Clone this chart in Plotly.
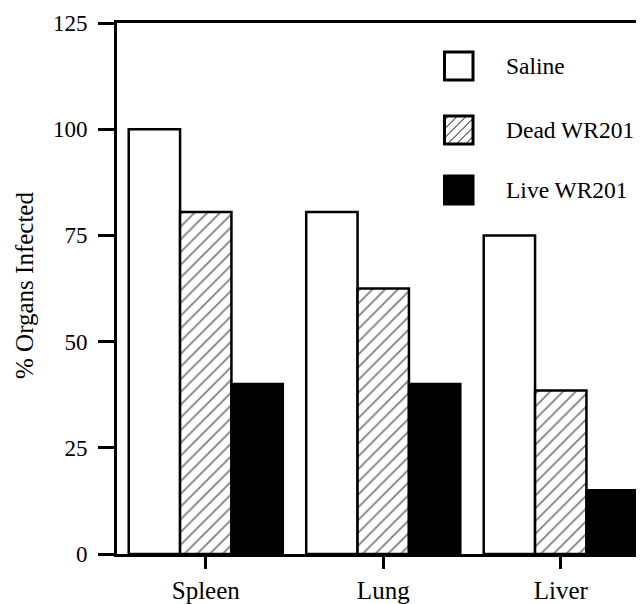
import plotly.graph_objects as go

# ---- data ----
categories = ["Spleen", "Lung", "Liver"]
series_names = ["Saline", "Dead WR201", "Live WR201"]
saline = [100, 80.5, 75]
dead_wr201 = [80.5, 62.5, 38.5]
live_wr201 = [40, 40, 15]
y_ticks = [0, 25, 50, 75, 100, 125]

# ---- layout geometry (page pixels; the page body has an 8px margin) ----
OFF = 8
W, H = 644 - OFF, 604 - OFF
ML, MR, MT, MB = 117 - OFF, 0, 23 - OFF, 50
PW, PH = W - ML - MR, H - MT - MB
FONT = "Liberation Serif"


def px(x):
    return (x - OFF - ML) / PW


def py(y):
    return (H - MB - (y - OFF)) / PH


fig = go.Figure()
fig.add_trace(go.Bar(name=series_names[0], x=categories, y=saline,
                     marker=dict(color="white", line=dict(color="black", width=2.5))))
fig.add_trace(go.Bar(name=series_names[1], x=categories, y=dead_wr201,
                     marker=dict(color="white", line=dict(color="black", width=2.5),
                                 pattern=dict(shape="/", size=9, solidity=0.2,
                                              fgcolor="black", bgcolor="white"))))
fig.add_trace(go.Bar(name=series_names[2], x=categories, y=live_wr201,
                     marker=dict(color="black", line=dict(color="black", width=2.5))))

# ---- custom legend ----
shapes = []
annotations = []
bx0, bx1 = 444.5, 473
boxes = [(52, 80), (116, 144), (176, 204)]
fills = ["white", "white", "black"]
for i, (name, (y0, y1), fc) in enumerate(zip(series_names, boxes, fills)):
    if i == 1:
        s = 9
        c = bx0 + y0 + 4
        while c < bx1 + y1:
            if bx0 <= c - y1 <= bx1:
                sx, sy = c - y1, y1
            else:
                sx, sy = bx0, c - bx0
            if c - y0 <= bx1:
                ex, ey = c - y0, y0
            else:
                ex, ey = bx1, c - bx1
            shapes.append(dict(type="line", xref="paper", yref="paper",
                               x0=px(sx), y0=py(sy), x1=px(ex), y1=py(ey),
                               line=dict(color="black", width=1)))
            c += s
    shapes.append(dict(type="rect", xref="paper", yref="paper",
                       x0=px(bx0), x1=px(bx1), y0=py(y1), y1=py(y0),
                       fillcolor=fc if fc == "black" else "rgba(0,0,0,0)",
                       line=dict(color="black", width=3), layer="above"))
    annotations.append(dict(text=name, xref="paper", yref="paper",
                            x=px(504), y=py((y0 + y1) / 2), xanchor="left", yanchor="middle",
                            showarrow=False, font=dict(family=FONT, size=23.5, color="black")))

# y-axis title
annotations.append(dict(text="% Organs Infected", xref="paper", yref="paper",
                        x=px(24), y=py(286), xanchor="center", yanchor="middle",
                        textangle=-90, showarrow=False,
                        font=dict(family=FONT, size=25, color="black")))

fig.update_layout(
    width=W, height=H,
    margin=dict(l=ML, r=MR, t=MT, b=MB, pad=0),
    paper_bgcolor="white", plot_bgcolor="white",
    barmode="group", bargap=0.132, bargroupgap=0,
    showlegend=False,
    shapes=shapes, annotations=annotations,
    font=dict(family=FONT, color="black"),
    xaxis=dict(range=[-0.5, 2.469],
               showline=True, linecolor="black", linewidth=3, mirror=True,
               ticks="outside", ticklen=12, tickwidth=3, tickcolor="black",
               tickfont=dict(family=FONT, size=25, color="black"),
               showgrid=False, zeroline=False, fixedrange=True),
    yaxis=dict(range=[0, 125], tickvals=y_ticks,
               showline=True, linecolor="black", linewidth=3,
               ticks="outside", ticklen=16, tickwidth=3, tickcolor="black",
               tickfont=dict(family=FONT, size=23, color="black"),
               ticklabelstandoff=6,
               showgrid=False, zeroline=False, fixedrange=True),
)

fig.write_html("out.html")
